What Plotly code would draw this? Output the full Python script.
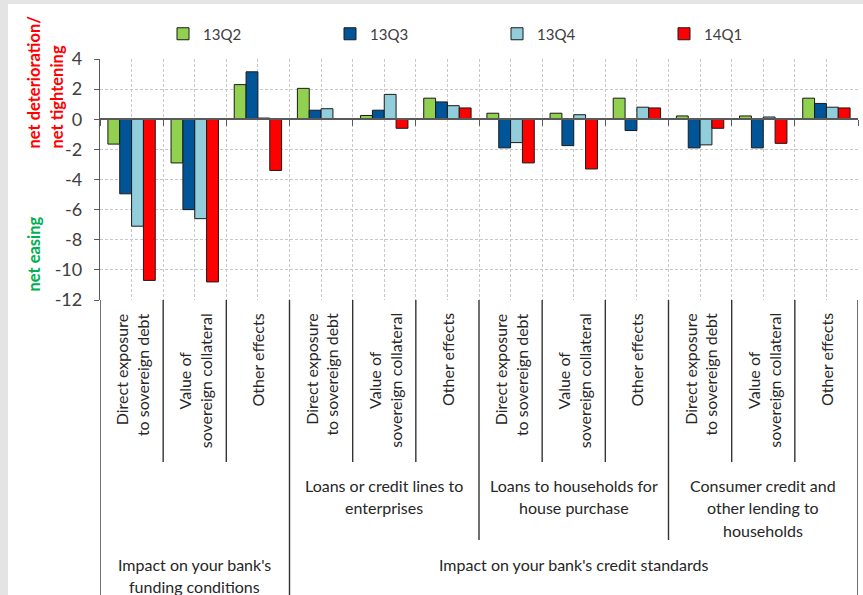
import numpy as np
import plotly.graph_objects as go

# ---- data -------------------------------------------------------------
series_names = ["13Q2", "13Q3", "13Q4", "14Q1"]
series_colors = ["#92D050", "#005598", "#92CDDC", "#FF0000"]

sub_labels = ["Direct exposure<br>to sovereign debt",
              "Value of<br>sovereign collateral",
              "Other effects"] * 4
sub_align = ["right", "center", "center"] * 4

group_labels = ["", "Loans or credit lines to<br>enterprises",
                "Loans to households for<br>house purchase",
                "Consumer credit and<br>other lending to<br>households"]
top_labels = ["Impact on your bank's<br>funding conditions",
              "Impact on your bank's credit standards"]
top_spans = [(0, 1), (1, 4)]          # groups covered by each top label

v_13q2 = [-1.65, -2.9, 2.3, 2.05, 0.25, 1.4, 0.4, 0.4, 1.4, 0.22, 0.22, 1.4]
v_13q3 = [-4.95, -6.0, 3.15, 0.6, 0.6, 1.15, -1.9, -1.75, -0.75, -1.9, -1.9, 1.05]
v_13q4 = [-7.1, -6.6, 0.08, 0.7, 1.65, 0.9, -1.55, 0.3, 0.8, -1.7, 0.15, 0.8]
v_14q1 = [-10.7, -10.8, -3.4, 0.0, -0.6, 0.75, -2.9, -3.3, 0.75, -0.6, -1.6, 0.75]
values = [v_13q2, v_13q3, v_13q4, v_14q1]

y_ticks = [-12, -10, -8, -6, -4, -2, 0, 2, 4]
y_tick_text = [str(v) for v in y_ticks]   # plain hyphen for negatives

# ---- geometry helpers (pixel layout of an 863 x 595 page) ---------------
W, H = 863, 595
ML, MR, MT, MB = 100, 5, 59, 295
PW, PH = W - ML - MR, H - MT - MB


def px(xp):
    return (xp - ML) / PW


def py(yp):
    return (H - MB - yp) / PH


n = len(sub_labels)
xpos = np.arange(n)
per_group = 3
ymin, ymax = min(y_ticks), max(y_ticks)

TXT = "#262626"
AX = "#595959"
FONT = "Lato"

fig = go.Figure()
for name, col, vals in zip(series_names, series_colors, values):
    fig.add_trace(go.Bar(
        x=xpos, y=vals, name=name,
        marker=dict(color=col, line=dict(color="#1a1a1a", width=1)),
    ))

shapes = []
annotations = []

# light frame on the left and top edges
shapes.append(dict(type="rect", xref="paper", yref="paper",
                   x0=px(0), x1=px(8), y0=py(H), y1=py(0),
                   fillcolor="#E4E4E4", line=dict(width=0)))
shapes.append(dict(type="rect", xref="paper", yref="paper",
                   x0=px(0), x1=px(W), y0=py(4), y1=py(0),
                   fillcolor="#E4E4E4", line=dict(width=0)))

# category table separators below the plot
bounds = np.arange(n + 1) - 0.5
for k, b in enumerate(bounds):
    if k % (per_group * 4) == 0 or k == per_group:
        bottom = H
    elif k % per_group == 0:
        bottom = 540
    else:
        bottom = 462
    shapes.append(dict(type="line", xref="x", yref="paper",
                       x0=b, x1=b, y0=py(300), y1=py(bottom),
                       line=dict(color="#333333", width=1.4)))

# rotated sub-category labels
for i, (lab, al) in enumerate(zip(sub_labels, sub_align)):
    annotations.append(dict(
        x=xpos[i], y=py(311), xref="x", yref="paper",
        text=lab, textangle=-90, showarrow=False, align=al,
        xanchor="center", yanchor="top",
        font=dict(family=FONT, size=16, color=TXT)))

# group labels (one annotation per line for Excel-like spacing)
LINE = 22.5
for g, lab in enumerate(group_labels):
    if not lab:
        continue
    cx = (g * per_group + (g + 1) * per_group) / 2 - 0.5
    for j, line in enumerate(lab.split("<br>")):
        annotations.append(dict(
            x=cx, y=py(485 + j * LINE), xref="x", yref="paper",
            text=line, showarrow=False, xanchor="center", yanchor="middle",
            font=dict(family=FONT, size=16, color=TXT)))

for lab, (g0, g1) in zip(top_labels, top_spans):
    cx = (g0 * per_group + g1 * per_group) / 2 - 0.5
    for j, line in enumerate(lab.split("<br>")):
        annotations.append(dict(
            x=cx, y=py(564 + j * LINE), xref="x", yref="paper",
            text=line, showarrow=False, xanchor="center", yanchor="middle",
            font=dict(family=FONT, size=16, color=TXT)))

# side captions
for text, xc, ybot, col in [("net deterioration/", 33, 151, "#FF0000"),
                            ("net tightening", 56, 151, "#FF0000"),
                            ("net easing", 33, 294, "#00B050")]:
    annotations.append(dict(
        x=px(xc), y=py(ybot), xref="paper", yref="paper",
        text=f"<b>{text}</b>", textangle=-90, showarrow=False,
        xanchor="center", yanchor="bottom",
        font=dict(family=FONT, size=16.5, color=col)))

fig.update_layout(
    width=W, height=H,
    margin=dict(l=ML, r=MR, t=MT, b=MB),
    paper_bgcolor="white", plot_bgcolor="white",
    barmode="group", bargap=0.25, bargroupgap=0,
    font=dict(family=FONT, color=TXT),
    showlegend=True,
    legend=dict(orientation="h", x=px(163), y=py(34),
                xanchor="left", yanchor="middle",
                entrywidth=122, traceorder="normal",
                font=dict(family=FONT, size=15, color="#404040")),
    shapes=shapes, annotations=annotations,
)

fig.update_yaxes(
    range=[ymin, ymax], tickvals=y_ticks, ticktext=y_tick_text,
    showgrid=True,
    gridcolor="#C8C8C8", griddash="3px,2px", gridwidth=1,
    showline=True, linecolor=AX, linewidth=1.3,
    ticks="outside", ticklen=5, tickcolor=AX, tickwidth=1.3,
    zeroline=False, ticklabelstandoff=8,
    tickfont=dict(family=FONT, size=18, color="#404040"),
)

fig.update_xaxes(
    range=[-0.5, n - 0.5], anchor="free",
    position=(0 - ymin) / (ymax - ymin),
    tickmode="array", tickvals=bounds, showticklabels=False,
    ticks="outside", ticklen=6, tickcolor=AX, tickwidth=1.3,
    showgrid=True, gridcolor="#C8C8C8", griddash="3px,2px", gridwidth=1,
    showline=True, linecolor=AX, linewidth=1.5, zeroline=False,
    minor=dict(tickmode="array", tickvals=xpos, showgrid=True,
               gridcolor="#C8C8C8", griddash="3px,2px", gridwidth=1,
               ticks=""),
)

fig.write_html("out.html")
